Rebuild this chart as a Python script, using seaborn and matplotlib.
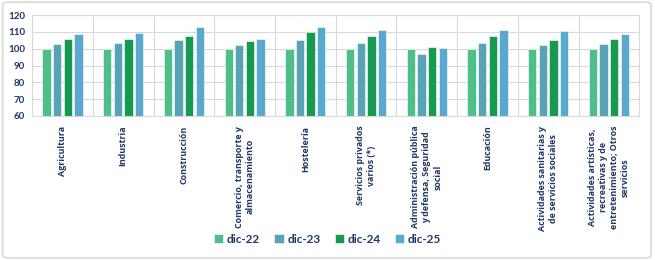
import pandas as pd
import matplotlib.pyplot as plt
import seaborn as sns
from matplotlib.patches import FancyBboxPatch

# Data
sectores = ["Agricultura", "Industria", "Construcción",
            "Comercio, transporte y\nalmacenamiento", "Hostelería",
            "Servicios privados\nvarios (*)",
            "Administración pública\ny defensa, Seguridad\nsocial",
            "Educación",
            "Actividades sanitarias y\nde servicios sociales",
            "Actividades artísticas,\nrecreativas y de\nentretenimiento; Otros\nservicios"]
periodos = ["dic-22", "dic-23", "dic-24", "dic-25"]
dic22 = [100, 100, 100, 100, 100, 100, 100, 100, 100, 100]
dic23 = [102.8, 103.2, 105.0, 102.0, 105.4, 103.4, 97.0, 103.2, 102.0, 102.8]
dic24 = [105.9, 105.7, 107.7, 104.4, 109.9, 107.7, 101.2, 107.4, 105.0, 105.7]
dic25 = [108.5, 109.1, 113.1, 105.7, 113.1, 111.1, 100.4, 111.1, 110.3, 108.5]
colores = ["#3ED08A", "#4AACC5", "#00B050", "#45B0E0"]
navy = "#1F3864"

df = pd.DataFrame({
    "sector": sectores * 4,
    "periodo": [p for p in periodos for _ in sectores],
    "valor": dic22 + dic23 + dic24 + dic25,
})

sns.set_style("white")
plt.rcParams["font.family"] = ["Lato", "DejaVu Sans"]

fig = plt.figure(figsize=(6.55, 2.6), dpi=100)
ax = fig.add_axes([0.049, 0.554, 0.927, 0.388])

sns.barplot(data=df, x="sector", y="valor", hue="periodo", palette=colores,
            width=0.7, gap=0.22, edgecolor="white", linewidth=0.4, ax=ax)

ax.set_ylim(60, 120)
ax.set_xlim(-0.5, len(sectores) - 0.5)
ax.set_yticks(range(60, 121, 10))
ax.set_xlabel("")
ax.set_ylabel("")

# gridlines: horizontal + category separators
ax.set_xticks([i + 0.5 for i in range(-1, len(sectores))], minor=True)
ax.grid(axis="y", color="#D9D9D9", lw=0.8)
ax.grid(axis="x", which="minor", color="#D9D9D9", lw=0.8)
ax.set_axisbelow(True)
for s in ax.spines.values():
    s.set_color("#D9D9D9")
    s.set_linewidth(0.8)

ax.tick_params(axis="x", which="major", length=0, pad=7)
ax.tick_params(axis="x", which="minor", length=4, color="#D9D9D9", direction="out")
ax.tick_params(axis="y", length=0, pad=5, labelsize=7, labelcolor=navy)
for t in ax.get_yticklabels():
    t.set_fontweight("bold")
ax.set_xticks(range(len(sectores)))
ax.set_xticklabels(sectores, rotation=90, fontsize=6.4, fontweight="bold",
                   family=["Open Sans", "DejaVu Sans"],
                   color=navy, ha="center", va="top", multialignment="center",
                   linespacing=1.3)

leg = ax.legend(loc="center", bbox_to_anchor=(0.5, 0.08), bbox_transform=fig.transFigure,
                ncol=4, frameon=False, prop={"weight": "bold", "size": 8.5},
                handlelength=0.8, handleheight=0.8, handletextpad=0.3, columnspacing=1.2)
for t in leg.get_texts():
    t.set_color(navy)

# outer frame
fig.patches.append(FancyBboxPatch((0.004, 0.008), 0.99, 0.984,
                                  boxstyle="round,pad=0,rounding_size=0.01",
                                  transform=fig.transFigure, fill=False,
                                  edgecolor="#D9D9D9", lw=1.2))

fig.savefig("out.png", dpi=100)
